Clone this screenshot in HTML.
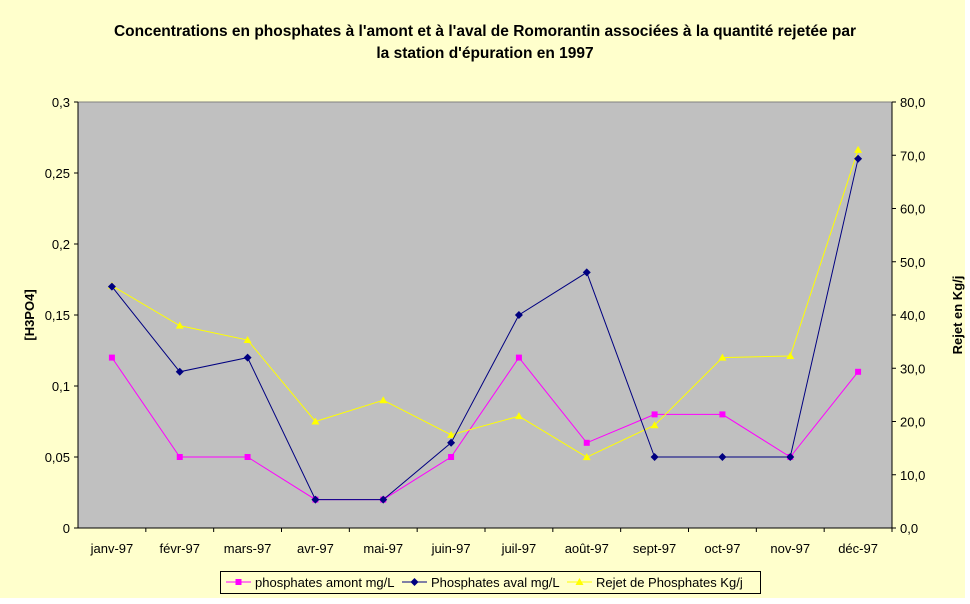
<!DOCTYPE html>
<html><head><meta charset="utf-8"><style>
body{margin:0;background:#fff;}
svg{display:block;font-family:"Liberation Sans",sans-serif;}
</style></head><body>
<svg id="chart" width="970" height="604"></svg>
<script>
const categories=["janv-97","févr-97","mars-97","avr-97","mai-97","juin-97","juil-97","août-97","sept-97","oct-97","nov-97","déc-97"];
const amont=[0.12,0.05,0.05,0.02,0.02,0.05,0.12,0.06,0.08,0.08,0.05,0.11];
const aval=[0.17,0.11,0.12,0.02,0.02,0.06,0.15,0.18,0.05,0.05,0.05,0.26];
const rejet=[45.5,38,35.3,20,24,17.5,21,13.3,19.3,32,32.3,71];
const leftTicks=["0","0,05","0,1","0,15","0,2","0,25","0,3"];
const rightTicks=["0,0","10,0","20,0","30,0","40,0","50,0","60,0","70,0","80,0"];
const NS="http://www.w3.org/2000/svg";
const svg=document.getElementById('chart');
const L=78,R=892,T=102,B=528;
const bw=(R-L)/categories.length;
const x=i=>L+bw*(i+0.5);
const yL=v=>B-(v/0.3)*(B-T);
const yR=v=>B-(v/80)*(B-T);
function mk(tag,attrs,parent){const e=document.createElementNS(NS,tag);for(const k in attrs)e.setAttribute(k,attrs[k]);(parent||svg).appendChild(e);return e;}
let bg=mk('rect',{x:0,y:0,width:965,height:598,fill:'#FFFFCC'});


let pa=mk('rect',{x:L,y:T,width:R-L,height:B-T,fill:'#C0C0C0',stroke:'#808080','stroke-width':1});


let t1=mk('text',{x:485,y:36,'text-anchor':'middle','font-size':15.5,'font-weight':'bold'});
t1.textContent="Concentrations en phosphates à l'amont et à l'aval de Romorantin associées à la quantité rejetée par";


let t2=mk('text',{x:485,y:58,'text-anchor':'middle','font-size':15.5,'font-weight':'bold'});
t2.textContent="la station d'épuration en 1997";


mk('line',{x1:L,y1:T,x2:L,y2:B,stroke:'#000'});
mk('line',{x1:R,y1:T,x2:R,y2:B,stroke:'#000'});
mk('line',{x1:L,y1:B,x2:R,y2:B,stroke:'#000'});
leftTicks.forEach((t,i)=>{const v=i*0.05,y=yL(v);mk('line',{x1:L-4,y1:y,x2:L,y2:y,stroke:'#000'});
let e=mk('text',{x:L-8,y:y+5,'text-anchor':'end','font-size':13});e.textContent=t;

});
rightTicks.forEach((t,i)=>{const v=i*10,y=yR(v);mk('line',{x1:R,y1:y,x2:R+4,y2:y,stroke:'#000'});
let e=mk('text',{x:R+8,y:y+5,'font-size':13});e.textContent=t;

});
categories.forEach((c,i)=>{const xx=L+bw*(i+1);mk('line',{x1:xx,y1:B,x2:xx,y2:B+4,stroke:'#000'});
let e=mk('text',{x:x(i),y:B+25,'text-anchor':'middle','font-size':13});e.textContent=c;

});
let yt=mk('text',{x:0,y:0,'font-size':13,'font-weight':'bold','text-anchor':'middle',transform:`translate(34,${(T+B)/2}) rotate(-90)`});yt.textContent="[H3PO4]";


let yt2=mk('text',{x:0,y:0,'font-size':13,'font-weight':'bold','text-anchor':'middle',transform:`translate(962,${(T+B)/2}) rotate(-90)`});yt2.textContent="Rejet en Kg/j";


function marker(type,cx,cy,color,g){
 if(type==='sq')return mk('rect',{x:cx-3,y:cy-3,width:6,height:6,fill:color},g);
 if(type==='di')return mk('polygon',{points:`${cx},${cy-4} ${cx+4},${cy} ${cx},${cy+4} ${cx-4},${cy}`,fill:color},g);
 return mk('polygon',{points:`${cx},${cy-4} ${cx+4},${cy+3} ${cx-4},${cy+3}`,fill:color},g);
}
function series(vals,yf,color,type,name){
 const g=mk('g',{});
 
 
 mk('polyline',{points:vals.map((v,i)=>x(i)+','+yf(v)).join(' '),fill:'none',stroke:color,'stroke-width':1},g);
 vals.forEach((v,i)=>{const m=marker(type,x(i),yf(v),color,g);
 
 });
}
series(amont,yL,'#FF00FF','sq','series-amont');
series(rejet,yR,'#FFFF00','tr','series-rejet');
series(aval,yL,'#000080','di','series-aval');
const lg=mk('g',{});


mk('rect',{x:220.5,y:571.5,width:540,height:22,fill:'#FFFFCC',stroke:'#000'},lg);
const items=[["phosphates amont mg/L",'#FF00FF','sq',226],["Phosphates aval mg/L",'#000080','di',402],["Rejet de Phosphates Kg/j",'#FFFF00','tr',567]];
items.forEach(it=>{const ey=582;
 mk('line',{x1:it[3],y1:ey,x2:it[3]+25,y2:ey,stroke:it[1]},lg);
 marker(it[2],it[3]+12.5,ey,it[1],lg);
 let e=mk('text',{x:it[3]+29,y:ey+5,'font-size':13},lg);e.textContent=it[0];
 
 });
</script>
</body></html>
